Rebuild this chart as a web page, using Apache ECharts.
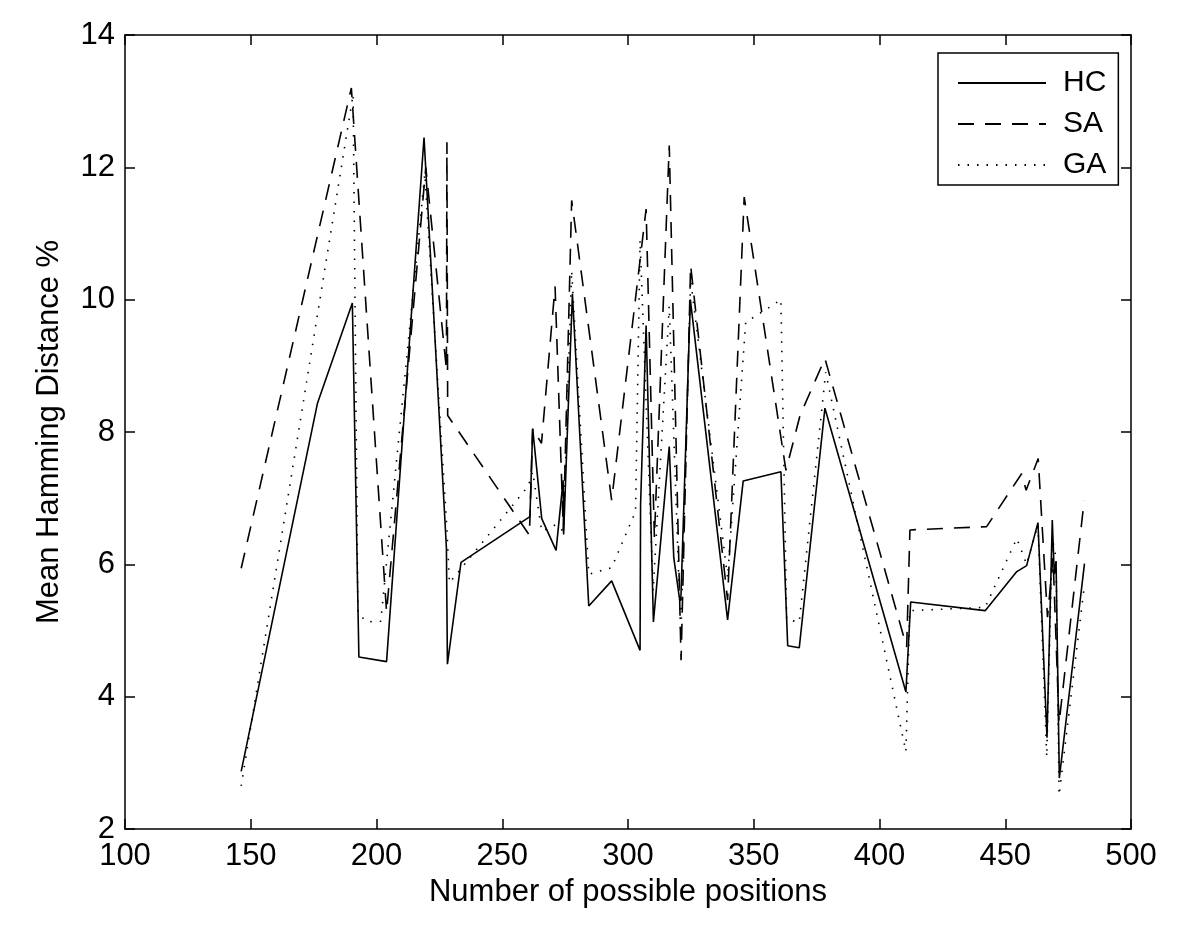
<!DOCTYPE html>
<html>
<head>
<meta charset="utf-8">
<script src="https://cdn.jsdelivr.net/npm/echarts@6/dist/echarts.min.js"></script>
<style>
html,body{margin:0;padding:0;background:#fff;}
#chart{width:1200px;height:938px;}
</style>
</head>
<body>
<div id="chart"></div>
<script>
// Data
var seriesNames = ['HC', 'SA', 'GA'];
var xTicks = [100, 150, 200, 250, 300, 350, 400, 450, 500];
var yTicks = [2, 4, 6, 8, 10, 12, 14];

var hcX = [146.2, 176.5, 190.4, 193.0, 204.0, 218.9, 227.8, 228.2, 233.6, 261.0, 262.1, 265.7, 271.4, 274.2, 274.4, 277.9, 284.4, 293.5, 304.8, 305.0, 307.2, 310.1, 316.4, 318.2, 320.4, 321.0, 324.8, 339.6, 345.8, 360.8, 363.5, 368.1, 378.3, 410.5, 412.4, 442.0, 454.6, 458.5, 463.0, 466.6, 468.7, 469.5, 470.2, 471.5, 481.5];
var hcY = [2.87, 8.43, 9.95, 4.60, 4.53, 12.45, 6.25, 4.49, 6.03, 6.72, 8.05, 6.69, 6.21, 7.27, 6.45, 10.09, 5.37, 5.75, 4.70, 6.9, 9.61, 5.13, 7.78, 6.10, 5.50, 5.45, 10.0, 5.16, 7.26, 7.40, 4.77, 4.74, 8.36, 4.07, 5.43, 5.30, 5.89, 5.98, 6.63, 3.38, 6.67, 5.85, 6.05, 2.77, 6.01];

var saX = [146.2, 190.0, 204.0, 219.6, 227.8, 228.0, 228.3, 260.8, 262.1, 265.6, 271.0, 274.3, 277.6, 293.5, 307.2, 310.5, 316.4, 321.1, 324.9, 339.6, 346.2, 362.8, 368.4, 378.3, 410.8, 412.1, 442.6, 456.5, 458.3, 463.1, 466.8, 469.0, 471.4, 481.4];
var saY = [5.94, 13.2, 5.28, 12.0, 8.95, 12.38, 8.25, 6.44, 8.05, 7.83, 10.2, 6.5, 11.5, 6.97, 11.37, 6.4, 12.33, 4.55, 10.52, 5.46, 11.55, 7.42, 8.25, 9.11, 4.75, 6.52, 6.57, 7.37, 7.12, 7.6, 5.2, 6.1, 3.6, 6.97];

var gaX = [146.2, 190.7, 192.6, 196.2, 201.7, 219.2, 227.9, 229.0, 260.3, 262.1, 265.7, 271.4, 274.3, 277.6, 284.4, 293.5, 303.0, 304.8, 310.0, 316.4, 321.0, 324.9, 339.6, 346.8, 356.5, 360.8, 363.1, 368.1, 378.6, 410.5, 412.0, 442.0, 454.6, 458.5, 463.0, 466.5, 468.7, 470.2, 471.4, 481.4];
var gaY = [2.65, 13.1, 5.26, 5.13, 5.14, 11.9, 6.6, 5.72, 7.18, 7.4, 6.5, 6.6, 6.5, 10.44, 5.85, 5.95, 6.8, 10.9, 5.6, 9.9, 4.9, 10.3, 5.8, 9.66, 9.89, 10.0, 5.16, 5.13, 8.9, 3.17, 5.3, 5.35, 6.39, 6.0, 6.6, 3.09, 6.4, 6.1, 2.51, 5.66];

function pairs(xs, ys) {
  var out = [];
  for (var i = 0; i < xs.length; i++) out.push([xs[i], ys[i]]);
  return out;
}

var FONT = 'Liberation Sans, Arial, Helvetica, sans-serif';
var chart = echarts.init(document.getElementById('chart'), null, {renderer: 'canvas'});

var axisLine = {show: true, lineStyle: {color: '#000', width: 1.5}};
var axisTickIn = {show: true, inside: true, length: 10, lineStyle: {color: '#000', width: 1.5}};

var option = {
  backgroundColor: '#fff',
  animation: false,
  grid: {left: 125, right: 69, top: 35, bottom: 109, containLabel: false},
  legend: {
    data: seriesNames,
    orient: 'vertical',
    left: 938,
    top: 53,
    padding: [15, 12, 5, 19],
    itemWidth: 88,
    itemHeight: 14,
    itemGap: 11,
    borderColor: '#000',
    borderWidth: 1.5,
    borderRadius: 0,
    backgroundColor: '#fff',
    itemStyle: {opacity: 0},
    textStyle: {fontFamily: FONT, fontSize: 30, color: '#000', padding: [0, 0, 0, 12], lineHeight: 30}
  },
  xAxis: [{
    type: 'value', min: 100, max: 500, interval: 50, position: 'bottom',
    axisLine: axisLine, axisTick: axisTickIn, splitLine: {show: false},
    axisLabel: {fontFamily: FONT, fontSize: 31, color: '#000', margin: 12},
    name: 'Number of possible positions', nameLocation: 'middle', nameGap: 48,
    nameTextStyle: {fontFamily: FONT, fontSize: 31, color: '#000'}
  }, {
    type: 'value', min: 100, max: 500, interval: 50, position: 'top',
    axisLine: axisLine, axisTick: axisTickIn, splitLine: {show: false},
    axisLabel: {show: false}
  }],
  yAxis: [{
    type: 'value', min: 2, max: 14, interval: 2, position: 'left',
    axisLine: axisLine, axisTick: axisTickIn, splitLine: {show: false},
    axisLabel: {fontFamily: FONT, fontSize: 31, color: '#000', margin: 10},
    name: 'Mean Hamming Distance %', nameLocation: 'middle', nameGap: 60,
    nameTextStyle: {fontFamily: FONT, fontSize: 31, color: '#000'}
  }, {
    type: 'value', min: 2, max: 14, interval: 2, position: 'right',
    axisLine: axisLine, axisTick: axisTickIn, splitLine: {show: false},
    axisLabel: {show: false}
  }],
  series: [{
    name: 'HC', type: 'line', symbol: 'none', xAxisIndex: 0, yAxisIndex: 0,
    data: pairs(hcX, hcY),
    lineStyle: {color: '#000', width: 1.6, type: 'solid'},
    itemStyle: {color: '#000'}
  }, {
    name: 'SA', type: 'line', symbol: 'none', xAxisIndex: 0, yAxisIndex: 0,
    data: pairs(saX, saY),
    lineStyle: {color: '#000', width: 1.6, type: [16, 11]},
    itemStyle: {color: '#000'}
  }, {
    name: 'GA', type: 'line', symbol: 'none', xAxisIndex: 0, yAxisIndex: 0,
    data: pairs(gaX, gaY),
    lineStyle: {color: '#000', width: 1.6, type: [1.5, 8]},
    itemStyle: {color: '#000'}
  }]
};
chart.setOption(option);
</script>
</body>
</html>
